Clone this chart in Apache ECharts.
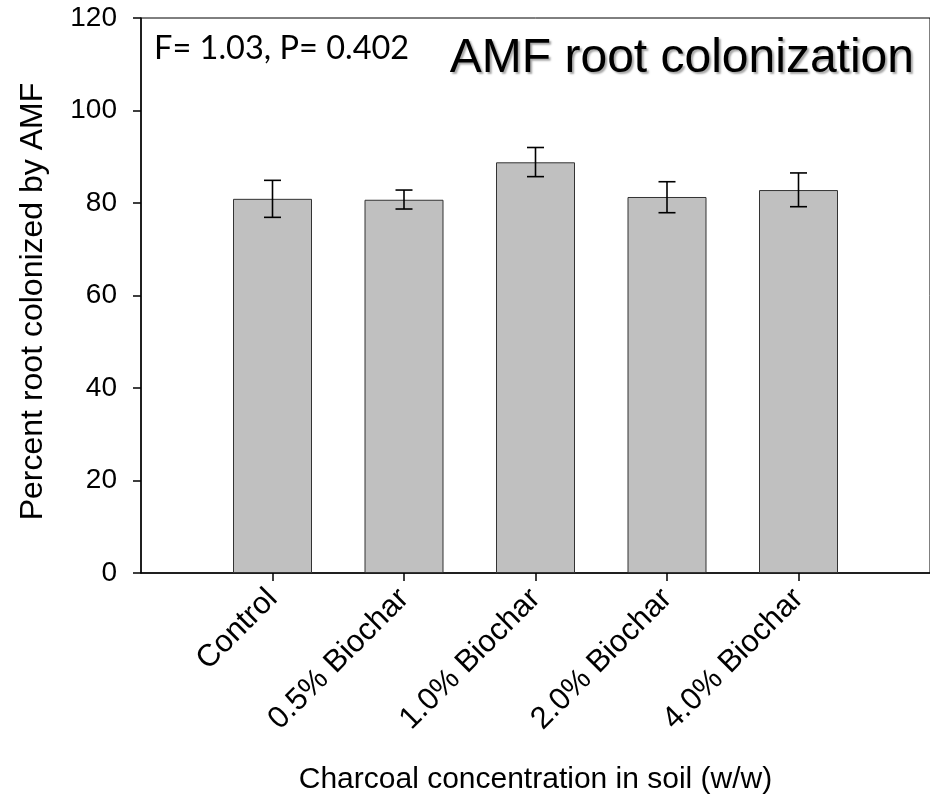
<!DOCTYPE html>
<html>
<head>
<meta charset="utf-8">
<script src="https://cdn.jsdelivr.net/npm/echarts@6/dist/echarts.min.js"></script>
<style>html,body{margin:0;padding:0;background:#fff}#c{width:930px;height:804px}</style>
</head>
<body>
<div id="c"></div>
<script>
const categories = ['Control', '0.5% Biochar', '1.0% Biochar', '2.0% Biochar', '4.0% Biochar'];
const means = [80.9, 80.7, 88.8, 81.3, 82.8];
const errUpper = [4.0, 2.1, 3.2, 3.3, 3.7];
const errLower = [4.0, 2.0, 3.1, 3.4, 3.6];
const yTicks = [0, 20, 40, 60, 80, 100, 120];
const titleText = 'AMF root colonization';
const statText = 'F= 1.03, P= 0.402';
const xName = 'Charcoal concentration in soil (w/w)';
const yName = 'Percent root colonized by AMF';

const positions = categories.map((c, i) => i + 1);
const barData = means.map((m, i) => [positions[i], m]);
const errData = means.map((m, i) => [positions[i], m + errUpper[i], m - errLower[i]]);

const chart = echarts.init(document.getElementById('c'), null, {renderer: 'canvas'});
const FONT = 'Liberation Sans, Arial, sans-serif';
chart.setOption({
  animation: false,
  backgroundColor: '#fff',
  grid: {left: 141, right: -3, top: 18, bottom: 231, show: true, borderColor: '#000', borderWidth: 1},
  title: [
    {text: titleText, right: 11, top: 30,
     textStyle: {fontFamily: FONT, fontSize: 48, fontWeight: 'normal', color: '#000',
       textShadowColor: 'rgba(0,0,0,0.35)', textShadowOffsetX: 2, textShadowOffsetY: 2, textShadowBlur: 2}},
    {text: statText, left: 149, top: 27,
     textStyle: {fontFamily: 'Lato, Carlito, sans-serif', fontSize: 32.5, fontWeight: 'normal', color: '#000'}}
  ],
  xAxis: {
    type: 'value', min: 0, max: 6, interval: 1,
    name: xName, nameLocation: 'middle', nameGap: 192,
    nameTextStyle: {fontFamily: FONT, fontSize: 30, color: '#000'},
    axisLine: {show: true, lineStyle: {color: '#000', width: 1.5}},
    axisTick: {show: true, length: 8, customValues: positions, lineStyle: {color: '#000', width: 1.5}},
    axisLabel: {customValues: positions, rotate: 45, margin: 21, fontFamily: FONT, fontSize: 31, color: '#000',
      formatter: v => categories[Math.round(v) - 1] || ''},
    splitLine: {show: false}
  },
  yAxis: {
    type: 'value', min: 0, max: 120, interval: 20,
    name: yName, nameLocation: 'middle', nameGap: 92, nameRotate: 90,
    nameTextStyle: {fontFamily: FONT, fontSize: 32, color: '#000', padding: [0, 12, 0, 0]},
    axisLine: {show: true, lineStyle: {color: '#000', width: 1.5}},
    axisTick: {show: true, length: 8, lineStyle: {color: '#000', width: 1.5}},
    axisLabel: {margin: 24, fontFamily: FONT, fontSize: 28, color: '#000',
      customValues: yTicks},
    splitLine: {show: false}
  },
  series: [
    {type: 'bar', data: barData, barWidth: 79,
     itemStyle: {color: '#c0c0c0', borderColor: '#333', borderWidth: 1}},
    {type: 'custom', data: errData, z: 10,
     renderItem: function (params, api) {
       const x = api.value(0);
       const top = api.coord([x, api.value(1)]);
       const bot = api.coord([x, api.value(2)]);
       const hw = 8.5;
       const style = {stroke: '#000', lineWidth: 1.6};
       return {type: 'group', children: [
         {type: 'line', shape: {x1: top[0], y1: top[1], x2: bot[0], y2: bot[1]}, style},
         {type: 'line', shape: {x1: top[0] - hw, y1: top[1], x2: top[0] + hw, y2: top[1]}, style},
         {type: 'line', shape: {x1: bot[0] - hw, y1: bot[1], x2: bot[0] + hw, y2: bot[1]}, style}
       ]};
     }}
  ]
});
</script>
</body>
</html>
